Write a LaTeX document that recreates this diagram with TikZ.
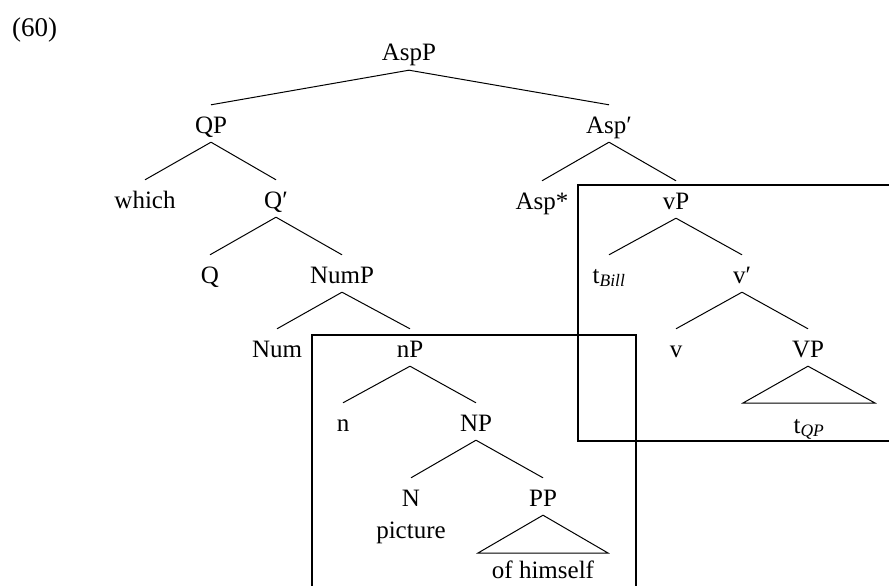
\documentclass[tikz,border=0pt]{standalone}
\usepackage{fontspec}
\setmainfont{Liberation Serif}
\usetikzlibrary{positioning}

\begin{document}
\begin{tikzpicture}[
    x=1pt, y=-1pt,
    lab/.style={anchor=base, text height=24pt, text depth=5pt, inner xsep=2pt, inner ysep=4pt, font=\fontsize{25}{30}\selectfont},
    word/.style={anchor=base, inner sep=0pt, font=\fontsize{25}{30}\selectfont},
    branch/.style={line width=1pt},
    frame/.style={line width=1.4pt}
]
    \clip (0,0) rectangle (889,586);

    \node[word, anchor=base west, font=\fontsize{27}{32}\selectfont] (ex) at (12,37) {(60)};

    % top of the tree
    \node[lab] (aspp) at (409,61) {AspP};
    \node[lab] (qp) at (211,133) {QP};
    \node[lab] (aspbar) at (609,133) {Asp′};

    % QP side
    \node[lab] (which) at (145,208) {which};
    \node[lab] (qbar) at (276,208) {Q′};
    \node[lab] (q) at (210,283) {Q};
    \node[lab] (nump) at (342,283) {NumP};
    \node[lab] (num) at (277,357) {Num};
    \node[lab] (np) at (410,357) {nP};
    \node[lab] (n) at (343,431) {n};
    \node[lab] (bignp) at (476,431) {NP};
    \node[lab] (bign) at (411,506) {N};
    \node[lab] (pp) at (543,506) {PP};
    \node[word] (picture) at (411,538) {picture};
    \node[word] (himself) at (543,578) {of himself};

    % Asp' side
    \node[lab] (aspstar) at (542,209) {Asp*};
    \node[lab] (vp) at (676,209) {vP};
    \node[lab] (tbill) at (609,283) {t\textsubscript{\itshape Bill}};
    \node[lab] (vbar) at (742,283) {v′};
    \node[lab] (v) at (676,357) {v};
    \node[lab] (bigvp) at (808,357) {VP};
    \node[word] (tqp) at (809,433) {t\textsubscript{\itshape QP}};

    \coordinate (ppl) at (478,553);
    \coordinate (ppr) at (608,553);
    \coordinate (vpl) at (743,403);
    \coordinate (vpr) at (875,403);

    \draw[branch] (aspp.south) -- (qp.north);
    \draw[branch] (aspp.south) -- (aspbar.north);
    \draw[branch] (qp.south) -- (which.north);
    \draw[branch] (qp.south) -- (qbar.north);
    \draw[branch] (qbar.south) -- (q.north);
    \draw[branch] (qbar.south) -- (nump.north);
    \draw[branch] (nump.south) -- (num.north);
    \draw[branch] (nump.south) -- (np.north);
    \draw[branch] (np.south) -- (n.north);
    \draw[branch] (np.south) -- (bignp.north);
    \draw[branch] (bignp.south) -- (bign.north);
    \draw[branch] (bignp.south) -- (pp.north);
    \draw[branch] (pp.south) -- (ppl) -- (ppr) -- cycle;

    \draw[branch] (aspbar.south) -- (aspstar.north);
    \draw[branch] (aspbar.south) -- (vp.north);
    \draw[branch] (vp.south) -- (tbill.north);
    \draw[branch] (vp.south) -- (vbar.north);
    \draw[branch] (vbar.south) -- (v.north);
    \draw[branch] (vbar.south) -- (bigvp.north);
    \draw[branch] (bigvp.south) -- (vpl) -- (vpr) -- cycle;

    % the two boxes
    \draw[frame] (578,185) rectangle (900,441);
    \draw[frame] (312,335) rectangle (636,600);
\end{tikzpicture}
\end{document}
